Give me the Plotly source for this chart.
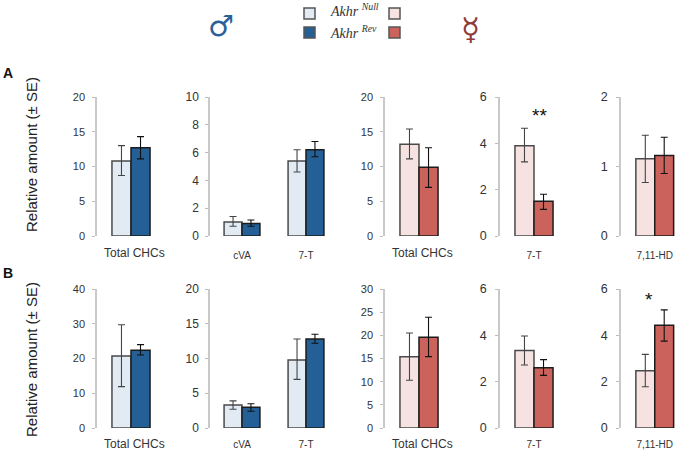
import plotly.graph_objects as go

W, H = 680, 453

cats_total = ["Total CHCs"]
cats_male = ["cVA", "7-T"]
cats_7t = ["7-T"]
cats_hd = ["7,11-HD"]

a1_null = [10.8]; a1_null_hi = [13.0]; a1_null_lo = [8.7]
a1_rev = [12.7]; a1_rev_hi = [14.3]; a1_rev_lo = [11.1]
a2_null = [1.0, 5.4]; a2_null_hi = [1.4, 6.2]; a2_null_lo = [0.7, 4.6]
a2_rev = [0.9, 6.2]; a2_rev_hi = [1.15, 6.8]; a2_rev_lo = [0.7, 5.7]
a3_null = [13.2]; a3_null_hi = [15.4]; a3_null_lo = [11.1]
a3_rev = [9.9]; a3_rev_hi = [12.7]; a3_rev_lo = [7.0]
a4_null = [3.9]; a4_null_hi = [4.65]; a4_null_lo = [3.2]
a4_rev = [1.5]; a4_rev_hi = [1.8]; a4_rev_lo = [1.15]
a5_null = [1.11]; a5_null_hi = [1.45]; a5_null_lo = [0.77]
a5_rev = [1.16]; a5_rev_hi = [1.42]; a5_rev_lo = [0.9]

b1_null = [20.7]; b1_null_hi = [29.7]; b1_null_lo = [11.9]
b1_rev = [22.4]; b1_rev_hi = [24.0]; b1_rev_lo = [21.0]
b2_null = [3.3, 9.8]; b2_null_hi = [3.9, 12.8]; b2_null_lo = [2.7, 7.0]
b2_rev = [3.0, 12.8]; b2_rev_hi = [3.5, 13.5]; b2_rev_lo = [2.4, 12.2]
b3_null = [15.4]; b3_null_hi = [20.5]; b3_null_lo = [10.3]
b3_rev = [19.6]; b3_rev_hi = [23.9]; b3_rev_lo = [15.4]
b4_null = [3.35]; b4_null_hi = [3.97]; b4_null_lo = [2.72]
b4_rev = [2.6]; b4_rev_hi = [2.95]; b4_rev_lo = [2.27]
b5_null = [2.47]; b5_null_hi = [3.18]; b5_null_lo = [1.78]
b5_rev = [4.43]; b5_rev_hi = [5.1]; b5_rev_lo = [3.75]

ticks_a = [[0, 5, 10, 15, 20], [0, 2, 4, 6, 8, 10], [0, 5, 10, 15, 20], [0, 2, 4, 6], [0, 1, 2]]
ticks_b = [[0, 10, 20, 30, 40], [0, 5, 10, 15, 20], [0, 5, 10, 15, 20, 25, 30], [0, 2, 4, 6], [0, 2, 4, 6]]

M_NULL, M_REV = "#e2eaf4", "#245f95"
F_NULL, F_REV = "#f6e3e1", "#cb625c"
FONT = "Liberation Sans, Arial, sans-serif"

spans = [(97, 165), (210, 338), (385, 453), (500, 568), (621, 680)]
xfont = [12, 10, 12, 10, 10]
yfont = [11, 12, 11, 12.5, 12.5]
ystand = [5, 4, 5, 6, 6]
male = [True, True, False, False, False]
cats = [cats_total, cats_male, cats_total, cats_7t, cats_hd]
# the two-space lead nudges the "Total CHCs" label right of the bars, as in the reference
labels = [["\u00a0\u00a0" + c for c in cats_total], cats_male,
          ["\u00a0\u00a0" + c for c in cats_total], cats_7t, cats_hd]

rows = [
    (97, 236, ticks_a, {12: 8, 10: 12}, [
        (a1_null, a1_null_hi, a1_null_lo, a1_rev, a1_rev_hi, a1_rev_lo),
        (a2_null, a2_null_hi, a2_null_lo, a2_rev, a2_rev_hi, a2_rev_lo),
        (a3_null, a3_null_hi, a3_null_lo, a3_rev, a3_rev_hi, a3_rev_lo),
        (a4_null, a4_null_hi, a4_null_lo, a4_rev, a4_rev_hi, a4_rev_lo),
        (a5_null, a5_null_hi, a5_null_lo, a5_rev, a5_rev_hi, a5_rev_lo),
    ]),
    (289, 428, ticks_b, {12: 7, 10: 9}, [
        (b1_null, b1_null_hi, b1_null_lo, b1_rev, b1_rev_hi, b1_rev_lo),
        (b2_null, b2_null_hi, b2_null_lo, b2_rev, b2_rev_hi, b2_rev_lo),
        (b3_null, b3_null_hi, b3_null_lo, b3_rev, b3_rev_hi, b3_rev_lo),
        (b4_null, b4_null_hi, b4_null_lo, b4_rev, b4_rev_hi, b4_rev_lo),
        (b5_null, b5_null_hi, b5_null_lo, b5_rev, b5_rev_hi, b5_rev_lo),
    ]),
]

fig = go.Figure()
layout = {}
n = 0


def err(vals, hi, lo, color):
    return dict(type="data", symmetric=False,
                array=[h - v for h, v in zip(hi, vals)],
                arrayminus=[v - l for l, v in zip(lo, vals)],
                color=color, thickness=1.1, width=3.5)


for top, bot, ticks, xstand, panels in rows:
    for i, p in enumerate(panels):
        n += 1
        xa, ya = f"x{n}", f"y{n}"
        c_null, c_rev = (M_NULL, M_REV) if male[i] else (F_NULL, F_REV)
        v0, h0, l0, v1, h1, l1 = p
        fig.add_bar(x=cats[i], y=v0, xaxis=xa, yaxis=ya, offsetgroup="n", showlegend=False,
                    marker=dict(color=c_null, line=dict(color="#4a4a4a", width=1.5)),
                    error_y=err(v0, h0, l0, "#444444"))
        fig.add_bar(x=cats[i], y=v1, xaxis=xa, yaxis=ya, offsetgroup="r", showlegend=False,
                    marker=dict(color=c_rev, line=dict(color="#1c1c1c", width=1.5)),
                    error_y=err(v1, h1, l1, "#111111"))
        x0, x1 = spans[i]
        band = (x1 - x0) if i != 4 else 67.5
        layout[f"xaxis{n}"] = dict(
            domain=[x0 / W, x1 / W], anchor=ya, type="category",
            range=[-0.5, len(cats[i]) - 0.5 if i != 4 else -0.5 + (x1 - x0) / band],
            tickmode="array", tickvals=cats[i], ticktext=labels[i],
            showline=False, ticks="", showgrid=False, zeroline=False, automargin=False,
            tickfont=dict(family=FONT, size=xfont[i], color="#333333"),
            ticklabelstandoff=xstand[xfont[i]])
        layout[f"yaxis{n}"] = dict(
            domain=[1 - bot / H, 1 - top / H], anchor=xa, automargin=False,
            range=[0, ticks[i][-1]], tickvals=ticks[i],
            showline=True, linecolor="#c9c9c9", linewidth=1.5,
            ticks="outside", ticklen=3, tickcolor="#bdbdbd", tickwidth=1,
            showgrid=False, zeroline=False,
            tickfont=dict(family=FONT, size=yfont[i], color="#333333"),
            ticklabelstandoff=ystand[i])


def note(x, y, text, size, color="#111111", family=FONT, **kw):
    return dict(x=x / W, y=1 - y / H, xref="paper", yref="paper", text=text, showarrow=False,
                xanchor="center", yanchor="middle",
                font=dict(family=family, size=size, color=color), **kw)


SERIF = "Liberation Serif, serif"
annots = [
    note(8, 73, "<b>A</b>", 14),
    note(8, 273, "<b>B</b>", 14),
    note(31, 155, "Relative amount (± SE)", 15, "#222222", textangle=-90),
    note(31, 360, "Relative amount (± SE)", 15, "#222222", textangle=-90),
    note(539, 116, "**", 19),
    note(649, 299, "*", 19),
    note(221, 26, "♂", 29, "#2a6099", "DejaVu Sans"),
    note(470, 29, "☿", 31, "#8f3a36", "DejaVu Sans"),
    note(354, 10, "<i>Akhr</i> <sup><i>Null</i></sup>", 14, "#333333", SERIF),
    note(353, 32, "<i>Akhr</i> <sup><i>Rev</i></sup>", 14, "#333333", SERIF),
]

swatches = [(304, 8, M_NULL), (304, 27, M_REV), (389, 8, F_NULL), (389, 27, F_REV)]
shapes = [dict(type="rect", xref="paper", yref="paper",
               x0=x / W, x1=(x + 11) / W, y0=1 - (y + 11) / H, y1=1 - y / H,
               fillcolor=c, line=dict(color="#555555", width=1.5))
          for x, y, c in swatches]

fig.update_layout(
    width=W, height=H, margin=dict(l=0, r=0, t=0, b=0, autoexpand=False),
    autosize=False,
    paper_bgcolor="white", plot_bgcolor="white",
    barmode="group", bargap=0.44, bargroupgap=0,
    annotations=annots, shapes=shapes, **layout)

fig.write_html("out.html", config={"displayModeBar": False},
               post_script="document.body.style.margin='0';document.body.style.overflow='hidden';")
